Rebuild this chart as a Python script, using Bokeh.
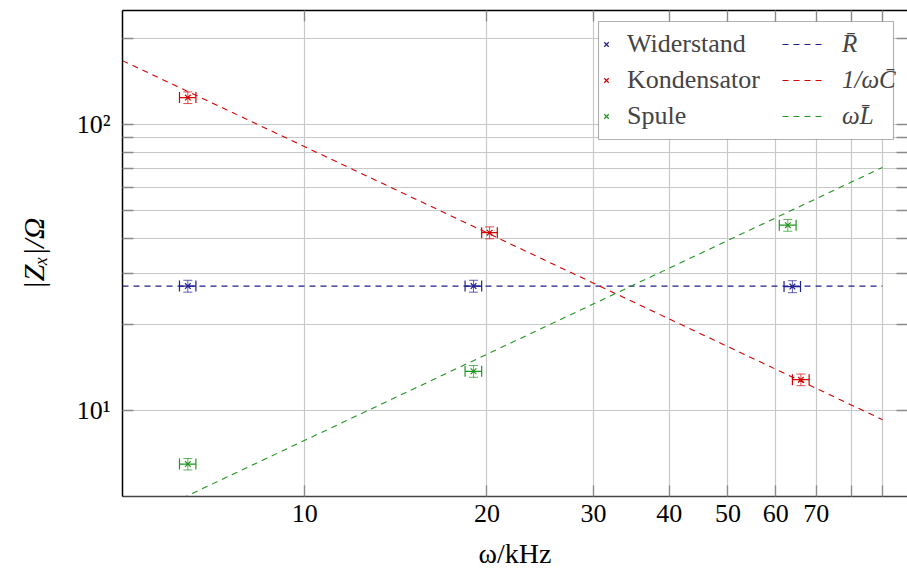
from bokeh.plotting import figure
from bokeh.models import (LogAxis, FixedTicker, BasicTickFormatter, Whisker, TeeHead,
                          ColumnDataSource, Legend, LegendItem, BoxAnnotation, Range1d,
                          CustomJSTickFormatter)
from bokeh.embed import file_html
from bokeh.resources import INLINE

# ---- data ----
omega_R = [6.41, 19.0, 63.9]
Z_R = [27.2, 27.2, 27.1]
omega_C = [6.41, 20.2, 66.0]
Z_C = [124.0, 41.8, 12.8]
omega_L = [6.41, 19.0, 62.8]
Z_L = [6.49, 13.7, 44.4]

d_omega_R = [0.2, 0.6, 2.0]
d_omega_C = [0.2, 0.6, 2.1]
d_omega_L = [0.2, 0.6, 2.0]
dZ_R = [1.3, 1.3, 1.3]
dZ_C = [5.8, 2.0, 0.6]
dZ_L = [0.3, 0.65, 2.1]

fit_omega = [5.0, 90.0]
fit_R = [27.2, 27.2]
fit_C = [167.0, 9.28]
fit_L = [3.93, 70.7]

x_major = [10, 20, 30, 40, 50, 60, 70]
x_minor = [80, 90]
y_major = [10, 100]
y_minor = [20, 30, 40, 50, 60, 70, 80, 90, 200]
y_labels = {10: "10¹", 100: "10²"}

series_names = ["Widerstand", "Kondensator", "Spule"]
fit_names = ["R̄", "1/ωC̄", "ωL̄"]

BLUE = "#1f1f8f"
RED = "#d40000"
GREEN = "#1f961f"
FONT = "Liberation Serif"
TICK = "#8a8a8a"

p = figure(width=907, height=576, x_axis_type="log", y_axis_type="log",
           x_range=Range1d(5, 99), y_range=Range1d(5, 250),
           output_backend="svg", toolbar_location=None,
           min_border_left=122, min_border_right=0, min_border_top=10, min_border_bottom=80)
p.outline_line_color = None
p.background_fill_color = "white"

xt = FixedTicker(ticks=x_major, minor_ticks=x_minor)
yt = FixedTicker(ticks=y_major, minor_ticks=y_minor)

xa = p.xaxis[0]
xa.ticker = xt
xa.formatter = BasicTickFormatter()
ya = p.yaxis[0]
ya.ticker = yt
ya.major_label_overrides = y_labels

for ax in (xa, ya):
    ax.major_tick_in = 11
    ax.major_tick_out = 0
    ax.minor_tick_in = 11
    ax.minor_tick_out = 0
    ax.major_tick_line_color = TICK
    ax.minor_tick_line_color = TICK
    ax.major_tick_line_width = 1.3
    ax.minor_tick_line_width = 1.3
    ax.axis_line_color = "black"
    ax.axis_line_width = 1.5
    ax.major_label_text_font = FONT
    ax.major_label_text_font_size = "26px"
    ax.major_label_text_color = "black"
    ax.axis_label_text_font = FONT
    ax.axis_label_text_color = "black"

xa.axis_line_color = "#444444"
xa.major_label_standoff = 8
xa.axis_label = "ω/kHz"
xa.axis_label_text_font_size = "28px"
xa.axis_label_text_font_style = "normal"
xa.axis_label_standoff = 13
ya.major_label_standoff = 12
ya.axis_label = "|Zₓ|/Ω"
ya.axis_label_text_font_size = "30px"
ya.axis_label_text_font_style = "italic"
ya.axis_label_standoff = 24

def bare_axis(ticker):
    return LogAxis(ticker=ticker, formatter=CustomJSTickFormatter(code="return ''"),
                   major_label_standoff=0, axis_label=None,
                   major_tick_in=11, major_tick_out=0, minor_tick_in=11, minor_tick_out=0,
                   major_tick_line_color=TICK, minor_tick_line_color=TICK,
                   major_tick_line_width=1.3, minor_tick_line_width=1.3,
                   axis_line_color="black", axis_line_width=1.5)

top = bare_axis(xt)
p.add_layout(top, "above")
right = bare_axis(yt)
right.axis_line_color = None
p.add_layout(right, "right")

for g in (p.xgrid[0], p.ygrid[0]):
    g.grid_line_color = "#c8c8c8"
    g.grid_line_width = 1.2
    g.minor_grid_line_color = "#c8c8c8"
    g.minor_grid_line_width = 1.2
p.xgrid[0].ticker = xt
p.ygrid[0].ticker = yt

# fit lines
lR = p.line(fit_omega, fit_R, line_color=BLUE, line_dash="6 5", line_width=1.1)
lC = p.line(fit_omega, fit_C, line_color=RED, line_dash="6 5", line_width=1.1)
lL = p.line(fit_omega, fit_L, line_color=GREEN, line_dash="6 5", line_width=1.1)

scatters = []
for om, z, dom, dz, col in ((omega_R, Z_R, d_omega_R, dZ_R, BLUE),
                            (omega_C, Z_C, d_omega_C, dZ_C, RED),
                            (omega_L, Z_L, d_omega_L, dZ_L, GREEN)):
    src = ColumnDataSource(dict(
        x=om, y=z,
        xl=[a - b for a, b in zip(om, dom)], xu=[a + b for a, b in zip(om, dom)],
        yl=[a - b for a, b in zip(z, dz)], yu=[a + b for a, b in zip(z, dz)]))
    p.add_layout(Whisker(base="y", lower="xl", upper="xu", dimension="width", source=src,
                         line_color=col, line_width=1.2,
                         upper_head=TeeHead(size=11, line_color=col, line_width=1.2),
                         lower_head=TeeHead(size=11, line_color=col, line_width=1.2)))
    p.add_layout(Whisker(base="x", lower="yl", upper="yu", dimension="height", source=src,
                         line_color=col, line_width=1.0, line_alpha=0.7,
                         upper_head=TeeHead(size=9, line_color=col, line_alpha=0.7),
                         lower_head=TeeHead(size=9, line_color=col, line_alpha=0.7)))
    s = p.scatter("x", "y", source=src, marker="x", size=8, line_color=col, line_width=1.2)
    scatters.append(s)

# legend frame
box = BoxAnnotation(left=476, right=771, top=475, bottom=357,
                    left_units="screen", right_units="screen",
                    top_units="screen", bottom_units="screen",
                    fill_color="white", fill_alpha=1.0, line_color="black", line_width=1.2,
                    level="annotation")
p.add_layout(box)

leg_left = Legend(items=[LegendItem(label=n, renderers=[r]) for n, r in zip(series_names, scatters)],
                  location=(476, 365), orientation="vertical", glyph_width=16, glyph_height=20,
                  label_standoff=13, padding=4, spacing=5, label_height=31, margin=0,
                  label_text_font=FONT, label_text_font_size="26px",
                  border_line_color=None, background_fill_alpha=0)
leg_right = Legend(items=[LegendItem(label=n, renderers=[r]) for n, r in zip(fit_names, (lR, lC, lL))],
                   location=(660, 365), orientation="vertical", glyph_width=44, glyph_height=20,
                   label_standoff=16, padding=4, spacing=5, label_height=31, margin=0,
                   label_text_font=FONT, label_text_font_size="25px", label_text_font_style="italic",
                   border_line_color=None, background_fill_alpha=0)
p.add_layout(leg_left)
p.add_layout(leg_right)

open("out.html", "w").write(file_html(p, INLINE))
